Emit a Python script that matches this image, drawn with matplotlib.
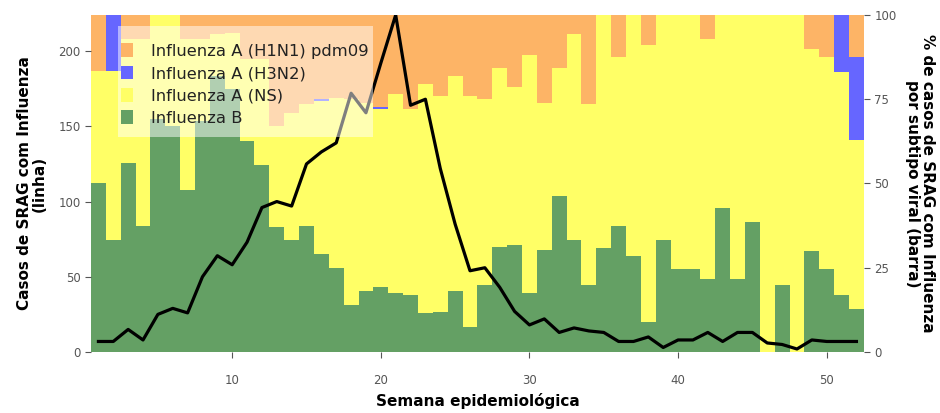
import numpy as np
import matplotlib.pyplot as plt
from matplotlib.patches import Rectangle

# semanas epidemiologicas
semanas = np.arange(1, 53)

# casos de SRAG por influenza (linha)
casos = [7, 7, 15, 8, 25, 29, 26, 50, 64, 58, 73, 96, 100, 97, 125, 133, 139, 172, 159, 192,
         224, 164, 168, 122, 85, 54, 56, 43, 27, 18, 22, 13, 16, 14, 13, 7, 7, 10, 3, 8,
         8, 13, 7, 13, 13, 6, 5, 2, 8, 7, 7, 7]

# % por subtipo (barra)
pct_b = [50, 33.3, 56, 37.5, 69, 67, 48, 68.5, 82, 78, 62.5, 55.5, 37, 33.3, 37.3, 29, 25, 14, 18, 19.2,
         17.5, 16.8, 11.5, 12, 18, 7.3, 20, 31.3, 31.8, 17.5, 30.2, 46.2, 33.1, 20, 30.9, 37.3, 28.4, 9, 33.1, 24.6,
         24.6, 21.6, 42.7, 21.6, 38.5, 0, 19.8, 0, 30, 24.6, 16.9, 12.7]
pct_ns = [33.4, 50.1, 37, 55.5, 31, 33, 45, 24.5, 12.3, 16.6, 24.5, 31.5, 30, 37.7, 36.2, 45.5, 50.3, 61, 56, 52.9,
          59, 55.2, 68, 64, 64, 68.7, 55, 53.1, 46.7, 70.5, 43.8, 38.2, 61.4, 53.5, 69.1, 50.1, 71.6, 82, 66.9, 75.4,
          75.4, 71.3, 57.3, 78.4, 61.5, 100, 80.2, 100, 59.9, 62.8, 66.3, 50.1]
pct_h3n2 = [0, 16.6, 0, 0, 0, 0, 0, 0, 0, 0, 0, 0, 0, 0, 0, 0.7, 0, 0, 0, 0.7,
            0, 0, 0, 0, 0, 0, 0, 0, 0, 0, 0, 0, 0, 0, 0, 0, 0, 0, 0, 0,
            0, 0, 0, 0, 0, 0, 0, 0, 0, 0, 16.8, 24.6]
pct_h1n1 = [16.6, 0, 7, 7, 0, 0, 7, 7, 5.7, 5.4, 13, 13, 33, 29, 26.5, 24.8, 24.7, 25, 26, 27.2,
            23.5, 28, 20.5, 24, 18, 24, 25, 15.6, 21.5, 12, 26, 15.6, 5.5, 26.5, 0, 12.6, 0, 9, 0, 0,
            0, 7.1, 0, 0, 0, 0, 0, 0, 10.1, 12.6, 0, 12.6]

cor_b = '#64A064'
cor_ns = '#FFFF66'
cor_h3 = '#6666FF'
cor_h1 = '#FDB466'
cinza = '#555555'

fig = plt.figure(figsize=(9.4, 4.13), dpi=100)
ax = fig.add_axes([0.0968, 0.1477, 0.8222, 0.816])

b = np.array(pct_b)
ns = np.array(pct_ns)
h3 = np.array(pct_h3n2)
h1 = np.array(pct_h1n1)

bar_b = ax.bar(semanas, b, width=1, color=cor_b, linewidth=0)
bar_ns = ax.bar(semanas, ns, width=1, bottom=b, color=cor_ns, linewidth=0)
bar_h3 = ax.bar(semanas, h3, width=1, bottom=b + ns, color=cor_h3, linewidth=0)
bar_h1 = ax.bar(semanas, h1, width=1, bottom=b + ns + h3, color=cor_h1, linewidth=0)

ax.set_xlim(0.5, 52.5)
ax.set_ylim(0, 100)
ax.set_xticks([10, 20, 30, 40, 50])
ax.set_xlabel('Semana epidemiológica', fontsize=11, fontweight='bold', labelpad=4)

# eixo da linha (esquerda); twinx moves ax ticks, so set sides afterwards
ax2 = ax.twinx()
ax2.plot(semanas, casos, color='black', lw=2.3)
ax2.set_ylim(0, max(casos))
ax2.yaxis.tick_left()
ax2.yaxis.set_label_position('left')
ax2.set_yticks([0, 50, 100, 150, 200])
ax2.set_ylabel('Casos de SRAG com Influenza\n(linha)', fontsize=11, fontweight='bold',
               labelpad=8, linespacing=1.0)

ax.yaxis.tick_right()
ax.yaxis.set_label_position('right')
ax.set_yticks([0, 25, 50, 75, 100])
ax.set_ylabel('% de casos de SRAG com Influenza\npor subtipo viral (barra)', rotation=270,
              fontsize=11, fontweight='bold', labelpad=28, linespacing=1.0)

for a in (ax, ax2):
    for s in a.spines.values():
        s.set_visible(False)
    a.tick_params(colors=cinza, labelsize=8.5, length=4, width=0.8)
ax.tick_params(axis='x', pad=12)

# caixa semi-transparente da legenda
ax2.add_patch(Rectangle((0.035, 0.638), 0.33, 0.329, transform=ax2.transAxes,
                        facecolor='white', alpha=0.5, edgecolor='none', zorder=4))
leg = ax2.legend([bar_h1, bar_h3, bar_ns, bar_b],
                 ['Influenza A (H1N1) pdm09', 'Influenza A (H3N2)', 'Influenza A (NS)', 'Influenza B'],
                 loc='upper left', bbox_to_anchor=(0.039, 0.916), fontsize=11.8,
                 frameon=False, handlelength=0.75, handleheight=0.9, handletextpad=1.1,
                 labelspacing=0.42, borderpad=0, borderaxespad=0)
for t in leg.get_texts():
    t.set_color('#222222')

fig.savefig('out.png', dpi=100)
